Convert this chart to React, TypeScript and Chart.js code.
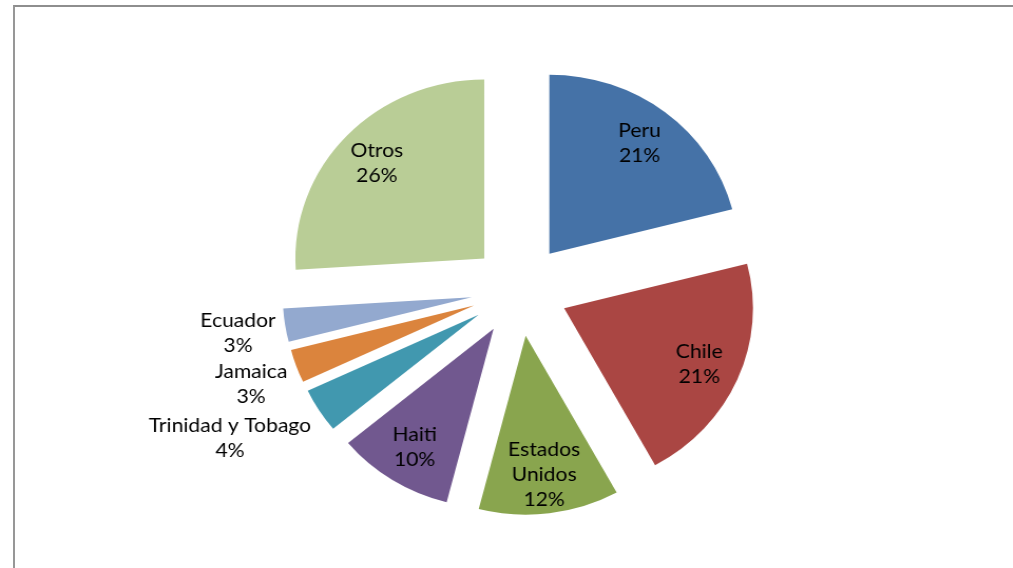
import React, { useEffect, useRef } from "react";
import { Chart, registerables } from "chart.js";

Chart.register(...registerables);

const categories = [
  "Peru",
  "Chile",
  "Estados Unidos",
  "Haiti",
  "Trinidad y Tobago",
  "Jamaica",
  "Ecuador",
  "Otros",
];
const shares = [21, 21, 12, 10, 4, 3, 3, 26];
const colors = [
  "#4572A7",
  "#AA4643",
  "#89A54E",
  "#71588F",
  "#4198AF",
  "#DB843D",
  "#93A9CF",
  "#B9CD96",
];

const EXPLODE = 46;
const RADIUS = 179;
const STRETCH_X = 1.055;
const FONT = "20px Lato, 'Open Sans', sans-serif";
const LINE_H = 25;

const explodePlugin = {
  id: "explode",
  beforeDatasetDraw(chart: any, args: any) {
    const ctx = chart.ctx;
    args.meta.data.forEach((arc: any) => {
      const mid = (arc.startAngle + arc.endAngle) / 2;
      ctx.save();
      ctx.translate(Math.cos(mid) * EXPLODE, Math.sin(mid) * EXPLODE);
      arc.draw(ctx);
      ctx.restore();
    });
    return false;
  },
};

const labelPlugin = {
  id: "sliceLabels",
  afterDraw(chart: any) {
    const ctx = chart.ctx;
    const meta = chart.getDatasetMeta(0);
    const data = chart.data.datasets[0].data as number[];
    const total = data.reduce((a, b) => a + b, 0);
    ctx.save();
    ctx.font = FONT;
    ctx.fillStyle = "#000";
    ctx.textAlign = "center";
    ctx.textBaseline = "middle";
    meta.data.forEach((arc: any, i: number) => {
      const mid = (arc.startAngle + arc.endAngle) / 2;
      const dx = Math.cos(mid);
      const dy = Math.sin(mid);
      const ax = arc.x + dx * EXPLODE;
      const ay = arc.y + dy * EXPLODE;
      const r = arc.outerRadius;
      const pct = Math.round((data[i] / total) * 100) + "%";
      const name = chart.data.labels[i] as string;
      const inside = data[i] / total >= 0.05;
      let lines: string[];
      if (inside && ctx.measureText(name).width > 100) {
        lines = name.split(" ").concat([pct]);
      } else {
        lines = [name, pct];
      }
      const w = Math.max(...lines.map((l) => ctx.measureText(l).width));
      const h = lines.length * LINE_H;
      let cx: number;
      let cy: number;
      if (inside) {
        cx = ax + dx * r * 0.78;
        cy = ay + dy * r * 0.78;
      } else {
        const px = ax + dx * (r + 9);
        const py = ay + dy * (r + 9);
        cx = dx < 0 ? px - w / 2 : px + w / 2;
        cy = py + dy * h * 0.85;
      }
      lines.forEach((l, k) => {
        ctx.fillText(l, cx, cy - h / 2 + LINE_H * (k + 0.5));
      });
    });
    ctx.restore();
  },
};

export default function App() {
  const ref = useRef<HTMLCanvasElement | null>(null);
  useEffect(() => {
    if (!ref.current) return;
    const chart = new Chart(ref.current, {
      type: "pie",
      data: {
        labels: categories,
        datasets: [
          {
            data: shares,
            backgroundColor: colors,
            borderWidth: 0,
          },
        ],
      },
      options: {
        animation: false,
        responsive: true,
        maintainAspectRatio: false,
        radius: RADIUS,
        layout: { padding: { left: 25, top: 12 } },
        plugins: {
          legend: { display: false },
          tooltip: { enabled: false },
        },
      } as any,
      plugins: [explodePlugin, labelPlugin],
    });
    return () => chart.destroy();
  }, []);
  return (
    <div
      style={{
        position: "absolute",
        left: 0,
        top: 0,
        width: 1013,
        height: 568,
        overflow: "hidden",
        background: "#fff",
      }}
    >
      <div
        style={{
          position: "absolute",
          left: 13,
          top: 5,
          width: 998,
          height: 561,
          borderTop: "2px solid #8e8e8e",
          borderLeft: "2px solid #979797",
        }}
      />
      <div
        style={{
          position: "absolute",
          left: 0,
          top: 0,
          width: 960,
          height: 568,
          transform: `scaleX(${STRETCH_X})`,
          transformOrigin: "0 0",
        }}
      >
        <canvas ref={ref} />
      </div>
    </div>
  );
}
